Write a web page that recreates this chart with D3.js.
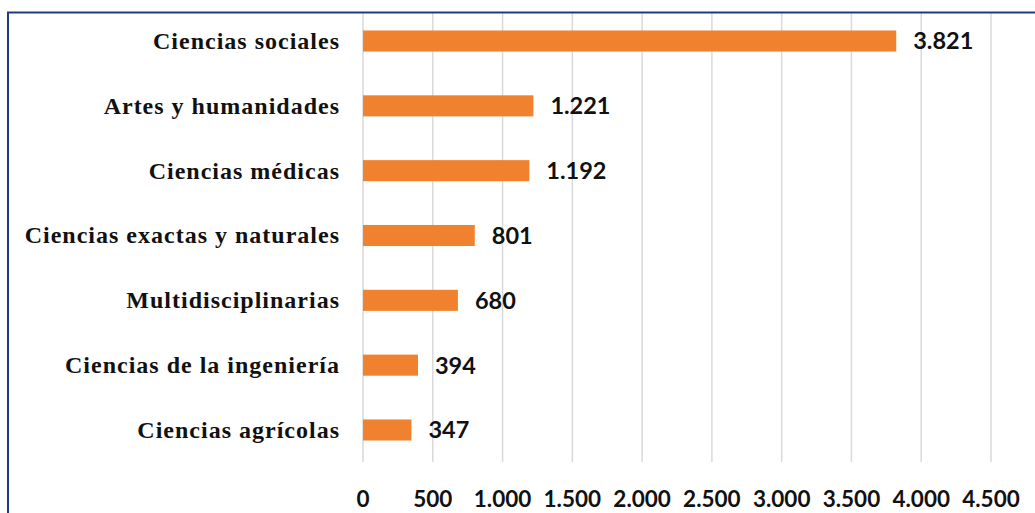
<!DOCTYPE html>
<html>
<head>
<meta charset="utf-8">
<script src="https://cdn.jsdelivr.net/npm/d3@7"></script>
<style>
  body { margin: 0; background: #fff; }
  svg { display: block; }
  .cat-label { font-family: "Liberation Serif", "Times New Roman", serif; font-weight: bold; font-size: 24px; letter-spacing: 1px; fill: #111; }
  .val-label, .tick-label { font-family: Lato, "Open Sans", sans-serif; font-weight: bold; fill: #111; }
</style>
</head>
<body>
<svg width="1035" height="513"></svg>
<script>
// datos
let categories = ["Ciencias sociales", "Artes y humanidades", "Ciencias médicas",
  "Ciencias exactas y naturales", "Multidisciplinarias", "Ciencias de la ingeniería", "Ciencias agrícolas"];
let values = [3821, 1221, 1192, 801, 680, 394, 347];
let tickValues = [0, 500, 1000, 1500, 2000, 2500, 3000, 3500, 4000, 4500];

let es = d3.formatLocale({decimal: ",", thousands: ".", grouping: [3], currency: ["", ""]});
let fmt = es.format(",d");

let plotLeft = 363, plotRight = 991, plotTop = 12, plotBottom = 462;

var svg = d3.select("svg");

var x = d3.scaleLinear()
    .domain([0, 4500])
    .range([plotLeft, plotRight]);

var y = d3.scaleBand()
    .domain(categories)
    .range([8.6, 462.4])
    .paddingInner(0.675)
    .paddingOuter(0.3375);

// gridlines
svg.append("g")
    .selectAll("line")
    .data(tickValues)
    .enter()
    .append("line")
    .attr("x1", d => x(d))
    .attr("x2", d => x(d))
    .attr("y1", plotTop)
    .attr("y2", plotBottom)
    .attr("stroke", "#d9d9d9")
    .attr("stroke-width", 1.5);

// tick labels
svg.append("g")
    .selectAll("text")
    .data(tickValues)
    .enter()
    .append("text")
    .attr("class", "tick-label")
    .attr("x", d => x(d))
    .attr("y", 507)
    .attr("text-anchor", "middle")
    .style("font-size", "22.5px")
    .text(d => fmt(d));

// barras
svg.append("g")
    .selectAll("rect")
    .data(values)
    .enter()
    .append("rect")
    .attr("x", x(0))
    .attr("y", (d, i) => y(categories[i]))
    .attr("width", d => x(d) - x(0))
    .attr("height", y.bandwidth())
    .attr("fill", "#f0812f");

// etiquetas de valor
svg.append("g")
    .selectAll("text")
    .data(values)
    .enter()
    .append("text")
    .attr("class", "val-label")
    .attr("x", d => x(d) + 17)
    .attr("y", (d, i) => y(categories[i]) + y.bandwidth() / 2)
    .attr("dy", "0.36em")
    .style("font-size", "23.5px")
    .text(d => fmt(d));

// categorias
svg.append("g")
    .selectAll("text")
    .data(categories)
    .enter()
    .append("text")
    .attr("class", "cat-label")
    .attr("x", 340)
    .attr("y", d => y(d) + y.bandwidth() / 2)
    .attr("dy", "0.33em")
    .attr("text-anchor", "end")
    .text(d => d);

// marco
svg.append("path")
    .attr("d", `M8,${1035} V12.5 H1035`)
    .attr("fill", "none")
    .attr("stroke", "#1f3a80")
    .attr("stroke-width", 2);
</script>
</body>
</html>
